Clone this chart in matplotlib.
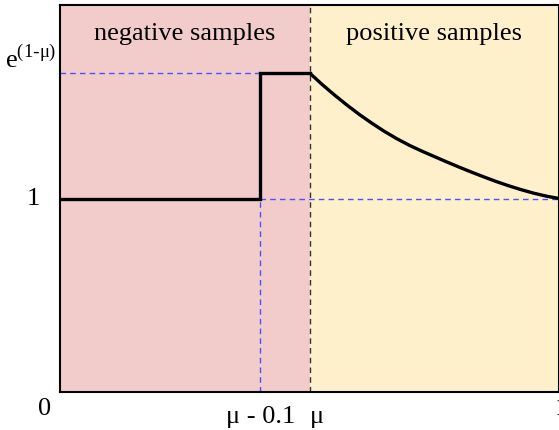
import matplotlib
matplotlib.use("Agg")
import matplotlib.pyplot as plt

mu = 0.5
peak = 1.6487  # e^(1-mu)
neg_x = [0.0, 0.4, 0.4, 0.5]
neg_y = [1.0, 1.0, peak, peak]
pos_x = [0.5, 0.525, 0.55, 0.575, 0.6, 0.625, 0.65, 0.675, 0.7, 0.725, 0.75,
         0.775, 0.8, 0.825, 0.85, 0.875, 0.9, 0.925, 0.95, 0.975, 1.0]
pos_y = [1.649, 1.590, 1.535, 1.483, 1.434, 1.389, 1.347, 1.309, 1.275, 1.245, 1.217,
         1.189, 1.162, 1.136, 1.111, 1.087, 1.065, 1.045, 1.027, 1.012, 1.000]
region_labels = ["negative samples", "positive samples"]

plt.rcParams['font.family'] = ['Liberation Serif', 'DejaVu Serif']

fig = plt.figure(figsize=(5.59, 4.30), dpi=100)
ax = fig.add_axes([60/559, 38/430, 499/559, 387/430])
ax.set_xlim(0, 1)
ax.set_ylim(0, 2)

ax.axvspan(0, mu, color='#F2CBCB', zorder=0)
ax.axvspan(mu, 1, color='#FFF0CC', zorder=0)

blue = '#4F4FFF'
ax.plot([0, mu], [peak, peak], ls=(0, (4, 3)), color=blue, lw=1.0, zorder=1)
ax.plot([0.4, 1], [1, 1], ls=(0, (4, 3)), color=blue, lw=1.0, zorder=1)
ax.plot([0.4, 0.4], [0, 1], ls=(0, (4, 3)), color=blue, lw=1.0, zorder=1)
ax.plot([mu, mu], [0, 2], ls=(0, (4, 3)), color='#333333', lw=1.0, zorder=1)

ax.plot(neg_x, neg_y, color='black', lw=2.4, zorder=3, solid_joinstyle='miter')
ax.plot(pos_x, pos_y, color='black', lw=2.4, zorder=3, solid_capstyle='butt',
        solid_joinstyle='round')

ax.text(0.25, 1.85, region_labels[0], ha='center', va='center', fontsize=19)
ax.text(0.75, 1.85, region_labels[1], ha='center', va='center', fontsize=19)

for s in ax.spines.values():
    s.set_linewidth(1.5)
ax.set_xticks([])
ax.set_yticks([])

# tick-like labels
fs = 19
fig.text(45/559, 1 - 415/430, "0", ha='center', va='baseline', fontsize=fs)
fig.text(261/559, 1 - 423/430, "μ - 0.1", ha='center', va='baseline', fontsize=fs)
fig.text(317/559, 1 - 423/430, "μ", ha='center', va='baseline', fontsize=fs)
fig.text(555/559, 1 - 415/430, "1", ha='left', va='baseline', fontsize=fs)
fig.text(33/559, 1 - 205/430, "1", ha='center', va='baseline', fontsize=fs)
fig.text(31/559, 1 - 68/430, r"e$^{\mathregular{(1\text{-}μ)}}$", ha='center', va='baseline', fontsize=fs)

fig.savefig("out.png", dpi=100)
